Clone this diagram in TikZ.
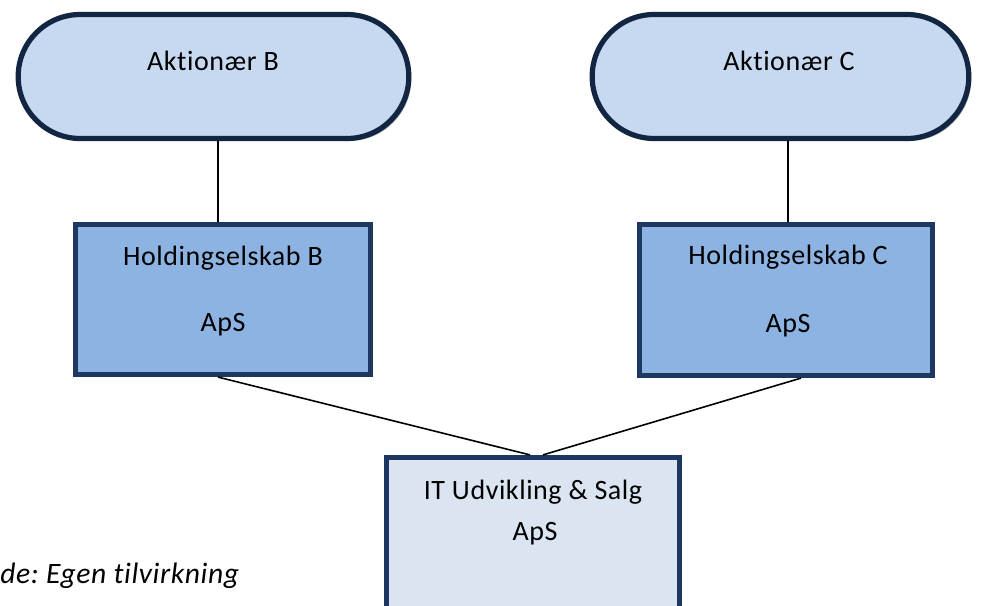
\documentclass[tikz,border=0pt]{standalone}
\usepackage{fontspec}
\setmainfont{Carlito}[Ligatures=NoCommon, LetterSpace=2]
\usepackage{tikz}
\usepackage{xcolor}
\usetikzlibrary{positioning,shapes.misc,shadows}
\definecolor{ownpill}{RGB}{198,217,241}
\definecolor{ownhold}{RGB}{141,179,226}
\definecolor{ownit}{RGB}{219,229,241}
\definecolor{ownstroke}{RGB}{28,56,96}
\definecolor{ownpillstroke}{RGB}{18,38,66}
\definecolor{ownshadow}{RGB}{140,150,165}
\frenchspacing

\begin{document}
\begin{tikzpicture}[
    x=0.5pt, y=-0.5pt,
    node distance=1cm,
    owner/.style={shape=rounded rectangle, draw=ownpillstroke, fill=ownpill, line width=2.6pt,
        drop shadow={shadow xshift=1.2pt, shadow yshift=-1.2pt, fill=ownshadow, opacity=1}},
    company/.style={draw=ownstroke, rectangle, line width=2.6pt, inner sep=0pt},
    link/.style={draw=black, line width=0.8pt},
    txt/.style={anchor=base, inner sep=0pt, font=\fontsize{14}{17}\selectfont},
]
  \clip (0,0) rectangle (982,606);
  \node[owner, minimum width=202pt, minimum height=62pt] (ab) at (213.5,76.5) {};
  \node[owner, minimum width=195pt, minimum height=62pt] (ac) at (780.5,76.5) {};
  \node[company, fill=ownhold, minimum width=147.5pt, minimum height=75pt] (hb) at (223,299.5) {};
  \node[company, fill=ownhold, minimum width=146.5pt, minimum height=75.5pt] (hc) at (786,300) {};
  \node[company, fill=ownit, minimum width=146.5pt, minimum height=95pt] (it) at (533,552.5) {};
  % forbindelser
  \draw[link] ([xshift=-2.5pt]hb.north) -- ([xshift=-2.5pt]hb.north |- ab.south);
  \draw[link] ([xshift=1pt]hc.north) -- ([xshift=1pt]hc.north |- ac.south);
  \draw[link] ([xshift=-2.5pt]hb.south) -- ([xshift=-1.5pt]it.north);
  \draw[link] ([xshift=7.5pt]hc.south) -- ([xshift=5pt]it.north);
  \node[txt] (abt) at (213,70) {Aktionær B};
  \node[txt] (act) at (789,70) {Aktionær C};
  \node[txt] (hbt) at (223,265) {Holdingselskab B};
  \node[txt] (hba) at (223,331) {ApS};
  \node[txt] (hct) at (788,264) {Holdingselskab C};
  \node[txt] (hca) at (788,332) {ApS};
  \node[txt] (itt) at (533,499) {IT Udvikling \& Salg};
  \node[txt] (ita) at (535,540) {ApS};
  \node[txt, anchor=base west, font=\fontsize{14.8}{18}\selectfont\itshape] (kilde) at (0,583) {de: Egen tilvirkning};
\end{tikzpicture}
\end{document}
